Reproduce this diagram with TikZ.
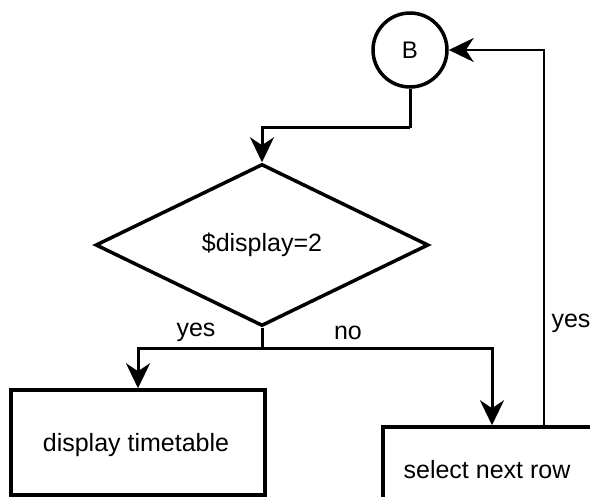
\documentclass[tikz,border=0pt]{standalone}
\usepackage{fontspec}
\setmainfont{Liberation Sans}
\usetikzlibrary{arrows.meta,shapes.geometric}

\tikzset{
  conn/.style={line width=3pt},
  arr/.style={conn, -{Stealth[length=25pt, width=24pt, inset=8pt]}},
  loopback/.style={line width=2.4pt, -{Stealth[length=25pt, width=24pt, inset=8pt]}},
  procbox/.style={draw, line width=3.5pt, rectangle, inner sep=0pt},
  decision/.style={draw, line width=3.5pt, diamond, inner sep=0pt, aspect=2},
  connector/.style={draw, line width=3.5pt, circle, inner sep=0pt},
  lbl/.style={inner sep=0pt, font=\fontsize{25}{30}\selectfont},
}

\begin{document}
\begin{tikzpicture}[x=1pt, y=-1pt]
  \clip (0,0) rectangle (590,497);
  \fill[white] (0,0) rectangle (590,497);

  % connector circle
  \node[connector, minimum size=74pt, font=\fontsize{24}{28}\selectfont] (B) at (410,50) {B};

  % decision
  \node[decision, minimum width=333pt, minimum height=162pt, font=\fontsize{25}{30}\selectfont] (dec) at (262,245) {\$display=2};

  % processes
  \node[procbox, minimum width=254pt, minimum height=105pt] (disp) at (138,442.5) {};
  \node[lbl] (disptxt) at (136,445) {display timetable};
  \node[procbox, minimum width=218pt, minimum height=93pt] (sel) at (492,473.5) {};
  \node[lbl] (seltxt) at (487,470) {select next row};

  % routing points
  \coordinate (j1) at (410,128);
  \coordinate (split) at (262,349);

  % flow
  \draw[conn] (B.south) -- (j1);
  \draw[arr] (j1) -| (dec.north);
  \draw[conn] (dec.south) -- (split);
  \draw[arr] (split) -| (disp.north);
  \draw[arr] (split) -| (sel.north);
  \draw[loopback] ([xshift=52pt]sel.north) |- (B.east);

  % branch labels
  \node[lbl] (lyes) at (196,332) {yes};
  \node[lbl] (lno) at (348,333) {no};
  \node[lbl] (lyes2) at (571,323) {yes};
\end{tikzpicture}
\end{document}
